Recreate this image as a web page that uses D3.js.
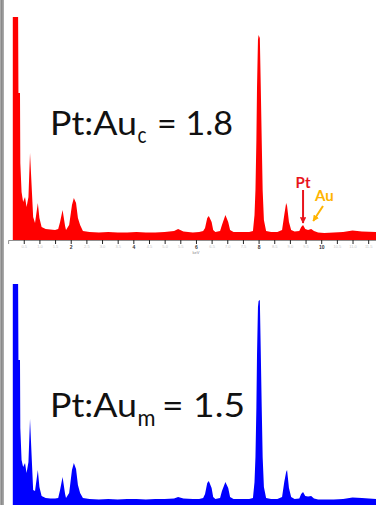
<!DOCTYPE html>
<html>
<head>
<meta charset="utf-8">
<script src="https://cdn.jsdelivr.net/npm/d3@7"></script>
<style>
  html, body { margin: 0; padding: 0; background: #fff; overflow: hidden; }
  svg { display: block; }
</style>
</head>
<body>
<svg id="chart" width="376" height="505"></svg>
<script>
// EDS spectra: photon energy (keV) and counts for the two Pt:Au samples
const energy = [
  0.15, 0.32, 0.33, 0.38, 0.39, 0.43, 0.48, 0.54, 0.59, 0.65, 0.70, 0.75, 0.80, 0.86, 0.95, 1.00,
  1.07, 1.20, 1.35, 1.50, 1.60, 1.66, 1.74, 1.82, 1.85, 1.95, 2.04, 2.10, 2.17, 2.23, 2.30, 2.39,
  2.60, 2.90, 3.20, 3.50, 3.80, 4.10, 4.40, 4.70, 5.00, 5.30, 5.43, 5.60, 5.90, 6.10, 6.23, 6.29,
  6.36, 6.41, 6.50, 6.55, 6.62, 6.77, 6.83, 6.94, 7.03, 7.09, 7.20, 7.45, 7.70, 7.82, 7.87, 7.90,
  7.93, 7.95, 7.98, 8.00, 8.04, 8.07, 8.10, 8.13, 8.17, 8.24, 8.40, 8.60, 8.75, 8.82, 8.88, 8.91,
  8.97, 9.04, 9.15, 9.30, 9.36, 9.42, 9.49, 9.58, 9.68, 9.77, 9.90, 10.1, 10.4, 10.7, 11.0, 11.3, 11.75
];
const countsPtAuC = [
  2230, 2230, 1470, 1470, 770, 480, 380, 430, 330, 430, 870, 550, 230, 170, 370, 220,
  130, 110, 105, 100, 110, 180, 300, 140, 100, 150, 350, 420, 370, 220, 150, 90,
  80, 75, 80, 75, 75, 80, 75, 75, 80, 90, 110, 85, 75, 80, 90, 120,
  220, 240, 180, 100, 80, 90, 150, 250, 180, 100, 80, 80, 80, 90, 250, 500,
  1000, 1530, 2000, 2050, 2020, 1530, 1000, 500, 200, 90, 80, 80, 100, 250, 370, 340,
  180, 100, 85, 90, 130, 150, 110, 100, 110, 90, 75, 70, 75, 80, 95, 85, 80
];
const countsPtAuM = [
  2230, 2230, 1470, 1470, 790, 470, 400, 440, 340, 450, 880, 520, 170, 160, 370, 200,
  110, 90, 85, 85, 90, 170, 300, 130, 90, 140, 370, 440, 380, 220, 140, 90,
  80, 75, 80, 75, 80, 80, 75, 80, 80, 85, 100, 85, 80, 80, 90, 130,
  240, 260, 190, 100, 80, 90, 160, 250, 190, 100, 80, 80, 80, 90, 250, 500,
  1000, 1530, 2000, 2060, 2070, 1550, 1000, 500, 200, 90, 80, 80, 100, 250, 350, 370,
  190, 100, 80, 85, 130, 150, 110, 105, 110, 85, 75, 75, 75, 80, 95, 90, 80
];
const ratioNames = ["c", "m"];
const ratioValues = ["1.8", "1.5"];
const seriesColors = ["#ff0000", "#0000ff"];
const minorTicks = [0.5, 1, 1.5, 2, 2.5, 3, 3.5, 4, 4.5, 5, 5.5, 6, 6.5, 7, 7.5, 8, 8.5, 9, 9.5, 10, 10.5, 11, 11.5];
const majorTicks = [2, 4, 6, 8, 10];

const svg = d3.select("#chart");

// narrow grey strip along the left border
svg.append("rect").attr("x", 0).attr("y", 0).attr("width", 4).attr("height", 505).attr("fill", "#a9a9a9");
svg.append("rect").attr("x", 1).attr("y", 0).attr("width", 1.5).attr("height", 505).attr("fill", "#8a8a8a");

const x = d3.scaleLinear().domain([0, 11.75]).range([8.1, 376]);

// the lower spectrum's axis sits just below the visible area
const panels = [
  { counts: countsPtAuC, axisY: 240, showAxis: true,  textY: 135, subDy: 8, subW: 9,  eqX: 157, eqW: 76 },
  { counts: countsPtAuM, axisY: 507, showAxis: false, textY: 417, subDy: 9, subW: 18, eqX: 162, eqW: 83 }
];

const font = "Lato, 'Open Sans', sans-serif";

panels.forEach((p, i) => {
  const y = d3.scaleLinear().domain([0, 2250]).range([p.axisY, p.axisY - 225]);
  const data = energy.map((e, k) => ({ e, c: p.counts[k] }));
  const area = d3.area()
    .x(d => x(d.e))
    .y0(y(0))
    .y1(d => y(d.c));

  const g = svg.append("g");
  g.append("path").datum(data).attr("d", area).attr("fill", seriesColors[i]);

  if (p.showAxis) {
    const axis = d3.axisBottom(x)
      .tickValues(minorTicks)
      .tickSize(4)
      .tickPadding(1)
      .tickFormat(d => majorTicks.includes(d) ? String(d) : d3.format(".1f")(d));
    const ag = g.append("g").attr("transform", `translate(0,${p.axisY})`).call(axis);
    ag.select(".domain").attr("stroke", "#444").attr("stroke-width", 0.6);
    ag.selectAll(".tick line").attr("stroke", "#222").attr("stroke-width", 1);
    ag.selectAll(".tick text")
      .attr("font-family", "Arial, sans-serif")
      .attr("font-size", d => majorTicks.includes(d) ? 5 : 4)
      .attr("font-weight", d => majorTicks.includes(d) ? "bold" : "normal")
      .attr("fill", d => majorTicks.includes(d) ? "#333" : "#c8c8c8");
    g.append("text")
      .attr("x", x(6)).attr("y", p.axisY + 14)
      .attr("text-anchor", "middle")
      .attr("font-family", "Arial, sans-serif").attr("font-size", 4).attr("fill", "#888")
      .text("keV");
  }

  // composition label
  g.append("text").attr("x", 50).attr("y", p.textY)
    .attr("font-family", font).attr("font-size", 32).attr("fill", "#111")
    .attr("textLength", 87).attr("lengthAdjust", "spacingAndGlyphs")
    .text("Pt:Au");
  g.append("text").attr("x", 137.5).attr("y", p.textY + p.subDy)
    .attr("font-family", font).attr("font-size", 23).attr("fill", "#111")
    .attr("textLength", p.subW).attr("lengthAdjust", "spacingAndGlyphs")
    .text(ratioNames[i]);
  g.append("text").attr("x", p.eqX).attr("y", p.textY)
    .attr("font-family", font).attr("font-size", 32).attr("fill", "#111")
    .attr("textLength", p.eqW).attr("lengthAdjust", "spacingAndGlyphs")
    .text("= " + ratioValues[i]);
});

// Pt L and Au L line markers on the upper spectrum
const yTop = d3.scaleLinear().domain([0, 2250]).range([240, 15]);
const defs = svg.append("defs");
[["arrRed", "#e8141c"], ["arrGold", "#ffb400"]].forEach(([id, col]) => {
  defs.append("marker").attr("id", id).attr("viewBox", "0 0 10 10")
    .attr("refX", 9).attr("refY", 5).attr("markerWidth", 3.2).attr("markerHeight", 3.2)
    .attr("orient", "auto")
    .append("path").attr("d", "M0,0 L10,5 L0,10 Z").attr("fill", col);
});
const ptE = 9.42, auE = 9.68;
svg.append("text").attr("x", x(ptE)).attr("y", 188).attr("text-anchor", "middle")
  .attr("font-family", font).attr("font-weight", "bold")
  .attr("font-size", 15).attr("fill", "#e8141c").text("Pt");
svg.append("line")
  .attr("x1", x(ptE)).attr("y1", 190).attr("x2", x(ptE)).attr("y2", yTop(150) - 2)
  .attr("stroke", "#e8141c").attr("stroke-width", 2).attr("marker-end", "url(#arrRed)");
svg.append("text").attr("x", 315).attr("y", 201)
  .attr("font-family", font).attr("font-weight", "bold")
  .attr("font-size", 15).attr("fill", "#ffb400").text("Au");
svg.append("line")
  .attr("x1", 323).attr("y1", 206).attr("x2", x(auE) + 2).attr("y2", yTop(110) - 8)
  .attr("stroke", "#ffb400").attr("stroke-width", 2).attr("marker-end", "url(#arrGold)");
</script>
</body>
</html>
